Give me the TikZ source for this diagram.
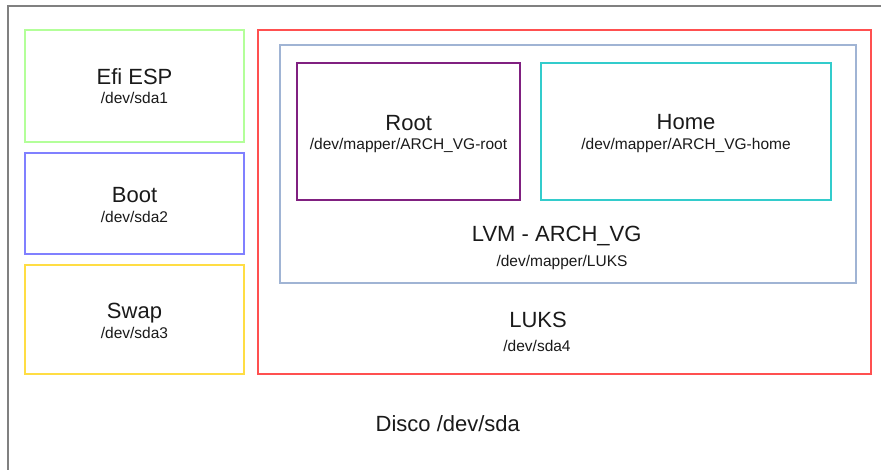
\documentclass[tikz,border=0pt]{standalone}
\usepackage{fontspec}
\setmainfont{Liberation Sans}
\definecolor{outergray}{HTML}{808080}
\definecolor{efigreen}{HTML}{B3FF99}
\definecolor{bootblue}{HTML}{8080FF}
\definecolor{swapyellow}{HTML}{FFDD44}
\definecolor{luksred}{HTML}{FF5050}
\definecolor{lvmblue}{HTML}{A0B4D4}
\definecolor{rootpurple}{HTML}{802080}
\definecolor{homecyan}{HTML}{33CCCC}
\definecolor{txt}{HTML}{1A1A1A}
\tikzset{
  partbox/.style={draw, line width=1.1pt, anchor=north west, inner sep=0pt, outer sep=0pt},
  bigtext/.style={anchor=base, inner sep=0pt, text=txt, font=\fontsize{22}{26}\selectfont},
  smalltext/.style={anchor=base, inner sep=0pt, text=txt, font=\fontsize{15.5}{18}\selectfont},
}
\begin{document}
\begin{tikzpicture}[x=1pt,y=-1pt]
\useasboundingbox (0,0) rectangle (881,470);
\fill[white] (0,0) rectangle (881,470);
\begin{scope}
\clip (0,0) rectangle (881,470);
\node[draw=outergray, line width=2pt, anchor=north west, minimum width=900pt, minimum height=490pt, inner sep=0pt] (disk) at (7,5) {};
\end{scope}
% left partitions
\node[partbox, draw=efigreen, minimum width=219pt, minimum height=112pt] (efi) at (25,30) {};
\node[partbox, draw=bootblue, minimum width=219pt, minimum height=101pt] (boot) at (25,153) {};
\node[partbox, draw=swapyellow, minimum width=219pt, minimum height=109pt] (swap) at (25,265) {};
% LUKS
\node[partbox, draw=luksred, minimum width=613pt, minimum height=344pt] (luks) at (258,30) {};
% LVM
\node[partbox, draw=lvmblue, minimum width=576pt, minimum height=238pt] (lvm) at (280,45) {};
% Root / Home
\node[partbox, draw=rootpurple, minimum width=223pt, minimum height=137pt] (root) at (297,63) {};
\node[partbox, draw=homecyan, minimum width=290pt, minimum height=137pt] (home) at (541,63) {};
% texts
\node[bigtext] (efit) at (134.5,85) {Efi ESP};
\node[smalltext] (efis) at (134.5,104) {/dev/sda1};
\node[bigtext] (boott) at (134.5,202.7) {Boot};
\node[smalltext] (boots) at (134.5,222.7) {/dev/sda2};
\node[bigtext] (swapt) at (134.5,318.3) {Swap};
\node[smalltext] (swaps) at (134.5,338.3) {/dev/sda3};
\node[bigtext] (roott) at (408.7,130.5) {Root};
\node[smalltext] (roots) at (408.5,150) {/dev/mapper/ARCH\_VG-root};
\node[bigtext] (homet) at (686,130) {Home};
\node[smalltext] (homes) at (686,149.3) {/dev/mapper/ARCH\_VG-home};
\node[bigtext] (lvmt) at (556.7,241.7) {LVM - ARCH\_VG};
\node[smalltext] (lvms) at (562,266.7) {/dev/mapper/LUKS};
\node[bigtext] (lukst) at (538,327.7) {LUKS};
\node[smalltext] (lukss) at (537,351.7) {/dev/sda4};
\node[bigtext] (diskt) at (447.8,431.7) {Disco /dev/sda};
\end{tikzpicture}
\end{document}
